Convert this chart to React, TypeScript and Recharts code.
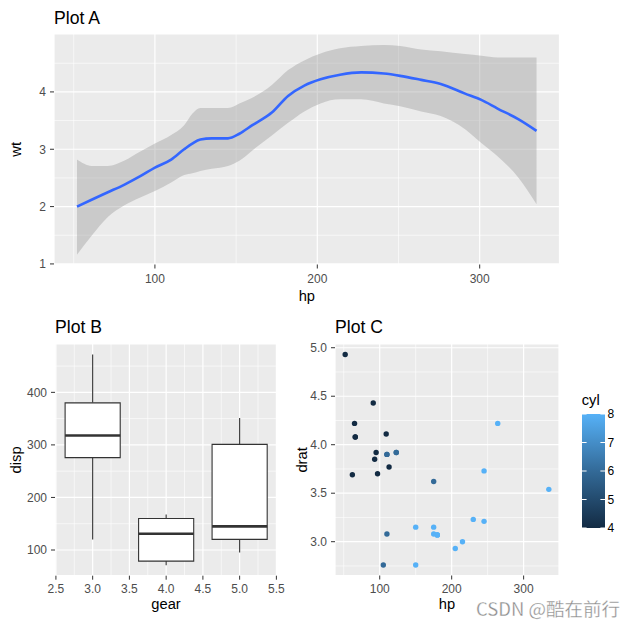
import React from "react";
import {
  ComposedChart,
  ScatterChart,
  Area,
  Line,
  Scatter,
  XAxis,
  YAxis,
  CartesianGrid,
  ReferenceLine,
  ReferenceArea,
} from "recharts";

const FONT = '"Liberation Sans", Arial, sans-serif';
const PANEL = "#EBEBEB";
const TICK = { fill: "#4D4D4D", fontSize: 12, fontFamily: FONT };
const TICK_LINE = { stroke: "#333333" };

// Plot A: smoothed wt ~ hp with its confidence band
const hpA = [52, 61, 71, 81, 91, 100, 110, 118, 123, 128, 135, 145, 152, 160, 172, 182, 192, 202, 214, 227, 241, 251, 264, 276, 291, 301, 311, 324, 335];
const wtFit = [2.0, 2.12, 2.25, 2.38, 2.53, 2.68, 2.82, 3.0, 3.1, 3.17, 3.19, 3.19, 3.27, 3.42, 3.64, 3.93, 4.11, 4.22, 4.3, 4.34, 4.32, 4.28, 4.21, 4.14, 3.97, 3.86, 3.71, 3.52, 3.32];
const wtLow = [1.16, 1.49, 1.82, 2.02, 2.16, 2.27, 2.42, 2.55, 2.58, 2.62, 2.66, 2.71, 2.8, 2.98, 3.24, 3.46, 3.66, 3.8, 3.87, 3.87, 3.8, 3.75, 3.66, 3.58, 3.35, 3.11, 2.88, 2.5, 2.04];
const wtHigh = [2.82, 2.71, 2.71, 2.8, 2.96, 3.1, 3.25, 3.42, 3.62, 3.72, 3.72, 3.72, 3.8, 3.9, 4.12, 4.38, 4.55, 4.67, 4.76, 4.8, 4.82, 4.8, 4.74, 4.71, 4.66, 4.63, 4.6, 4.6, 4.6];
const hpTicks = [100, 200, 300];
const hpMinor = [50, 150, 250];
const wtTicks = [1, 2, 3, 4];
const wtMinor = [1.5, 2.5, 3.5, 4.5];

// Plot B: disp by gear
const gears = [3, 4, 5];
const dispMin = [120.1, 71.1, 95.1];
const dispQ1 = [275.8, 78.85, 120.3];
const dispMed = [318, 130.9, 145];
const dispQ3 = [380, 160, 301];
const dispMax = [472, 167.6, 351];
const gearTicks = [2.5, 3, 3.5, 4, 4.5, 5, 5.5];
const gearMinor = [2.75, 3.25, 3.75, 4.25, 4.75, 5.25];
const dispTicks = [100, 200, 300, 400];
const dispMinor = [150, 250, 350, 450];

// Plot C: drat vs hp, coloured by cyl
const hpC = [110, 110, 93, 110, 175, 105, 245, 62, 95, 123, 123, 180, 180, 180, 205, 215, 230, 66, 52, 65, 97, 150, 150, 245, 175, 66, 91, 113, 264, 175, 335, 109];
const dratC = [3.9, 3.9, 3.85, 3.08, 3.15, 2.76, 3.21, 3.69, 3.92, 3.92, 3.92, 3.07, 3.07, 3.07, 2.93, 3.0, 3.23, 4.08, 4.93, 4.22, 3.7, 2.76, 3.15, 3.73, 3.08, 4.08, 4.43, 3.77, 4.22, 3.62, 3.54, 4.11];
const cylC = [6, 6, 4, 6, 8, 6, 8, 4, 4, 6, 6, 8, 8, 8, 8, 8, 8, 4, 4, 4, 4, 8, 8, 8, 8, 4, 4, 4, 8, 6, 8, 4];
const dratTicks = [3, 3.5, 4, 4.5, 5];
const dratMinor = [2.75, 3.25, 3.75, 4.25, 4.75];
const cylLegend = [4, 5, 6, 7, 8];
const CYL_COLORS: Record<number, string> = { 4: "#132B43", 6: "#336A98", 8: "#56B1F7" };

const smoothRows = hpA.map((hp, i) => ({ hp, fit: wtFit[i], band: [wtLow[i], wtHigh[i]] }));
const boxRows = gears.map((gear, i) => ({
  gear,
  min: dispMin[i],
  q1: dispQ1[i],
  med: dispMed[i],
  q3: dispQ3[i],
  max: dispMax[i],
}));
const pointRows = hpC.map((hp, i) => ({ hp, drat: dratC[i], cyl: cylC[i] }));

const minorX = (vals: number[]) =>
  vals.map((v) => (
    <ReferenceLine key={"mx" + v} x={v} stroke="#FFFFFF" strokeWidth={0.6} zIndex={-50} />
  ));
const minorY = (vals: number[]) =>
  vals.map((v) => (
    <ReferenceLine key={"my" + v} y={v} stroke="#FFFFFF" strokeWidth={0.6} zIndex={-50} />
  ));

function PlotA() {
  return (
    <ComposedChart
      width={628}
      height={310}
      data={smoothRows}
      margin={{ top: 34, right: 68.5, bottom: 0, left: 0 }}
    >
      <CartesianGrid fill={PANEL} stroke="#FFFFFF" strokeWidth={1.2} />
      {minorX(hpMinor)}
      {minorY(wtMinor)}
      <XAxis
        type="number"
        dataKey="hp"
        domain={[37.85, 349.15]}
        ticks={hpTicks}
        interval={0}
        height={45.5}
        axisLine={false}
        tickLine={TICK_LINE}
        tickSize={4}
        tickMargin={6}
        tick={TICK}
      />
      <YAxis
        type="number"
        domain={[0.99, 5.01]}
        ticks={wtTicks}
        interval={0}
        width={54}
        axisLine={false}
        tickLine={TICK_LINE}
        tickSize={4}
        tickMargin={4}
        tick={TICK}
      />
      <Area
        type="monotone"
        dataKey="band"
        fill="#999999"
        fillOpacity={0.4}
        stroke="none"
        isAnimationActive={false}
      />
      <Line
        type="monotone"
        dataKey="fit"
        stroke="#3366FF"
        strokeWidth={2.6}
        dot={false}
        isAnimationActive={false}
      />
    </ComposedChart>
  );
}

function PlotB() {
  const half = 0.375;
  return (
    <ComposedChart
      width={300}
      height={318}
      data={boxRows}
      margin={{ top: 34, right: 22.7, bottom: 0, left: 0 }}
    >
      <CartesianGrid fill={PANEL} stroke="#FFFFFF" strokeWidth={1.2} />
      {minorX(gearMinor)}
      {minorY(dispMinor)}
      <XAxis
        type="number"
        dataKey="gear"
        domain={[2.4875, 5.5125]}
        ticks={gearTicks}
        interval={0}
        height={52.3}
        axisLine={false}
        tickLine={TICK_LINE}
        tickSize={4}
        tickMargin={5}
        tick={TICK}
        tickFormatter={(v: number) => v.toFixed(1)}
      />
      <YAxis
        type="number"
        domain={[51.1, 492]}
        ticks={dispTicks}
        interval={0}
        width={55}
        axisLine={false}
        tickLine={TICK_LINE}
        tickSize={4}
        tickMargin={4}
        tick={TICK}
      />
      <Scatter dataKey="med" shape={() => <g />} isAnimationActive={false} />
      {boxRows.map((b) => (
        <ReferenceLine
          key={"wl" + b.gear}
          segment={[
            { x: b.gear, y: b.min },
            { x: b.gear, y: b.q1 },
          ]}
          stroke="#333333"
          strokeWidth={1.1}
          zIndex={300}
        />
      ))}
      {boxRows.map((b) => (
        <ReferenceLine
          key={"wh" + b.gear}
          segment={[
            { x: b.gear, y: b.q3 },
            { x: b.gear, y: b.max },
          ]}
          stroke="#333333"
          strokeWidth={1.1}
          zIndex={300}
        />
      ))}
      {boxRows.map((b) => (
        <ReferenceArea
          key={"bx" + b.gear}
          x1={b.gear - half}
          x2={b.gear + half}
          y1={b.q1}
          y2={b.q3}
          fill="#FFFFFF"
          fillOpacity={1}
          stroke="#333333"
          strokeWidth={1.1}
          zIndex={350}
        />
      ))}
      {boxRows.map((b) => (
        <ReferenceLine
          key={"md" + b.gear}
          segment={[
            { x: b.gear - half, y: b.med },
            { x: b.gear + half, y: b.med },
          ]}
          stroke="#333333"
          strokeWidth={2.6}
          zIndex={400}
        />
      ))}
    </ComposedChart>
  );
}

function PlotC() {
  return (
    <ScatterChart
      width={328}
      height={318}
      margin={{ top: 34, right: 69, bottom: 0, left: 0 }}
    >
      <CartesianGrid fill={PANEL} stroke="#FFFFFF" strokeWidth={1.2} />
      {minorX(hpMinor)}
      {minorY(dratMinor)}
      <XAxis
        type="number"
        dataKey="hp"
        domain={[37.85, 349.15]}
        ticks={hpTicks}
        interval={0}
        height={52.5}
        axisLine={false}
        tickLine={TICK_LINE}
        tickSize={4}
        tickMargin={5}
        tick={TICK}
      />
      <YAxis
        type="number"
        dataKey="drat"
        domain={[2.6515, 5.0385]}
        ticks={dratTicks}
        interval={0}
        width={35}
        axisLine={false}
        tickLine={TICK_LINE}
        tickSize={4}
        tickMargin={4}
        tick={TICK}
        tickFormatter={(v: number) => v.toFixed(1)}
      />
      <Scatter
        data={pointRows}
        isAnimationActive={false}
        shape={(p: any) => (
          <circle cx={p.cx} cy={p.cy} r={2.7} fill={CYL_COLORS[p.payload.cyl]} />
        )}
      />
    </ScatterChart>
  );
}

function Overlay() {
  const barTop = 414;
  const barH = 114;
  const barX = 582;
  const barW = 23;
  const yOf = (v: number) => barTop + barH - ((v - 4) / 4) * barH;
  const title = { fontFamily: FONT, fontSize: 17.6, fill: "#000" };
  const axisTitle = { fontFamily: FONT, fontSize: 14.7, fill: "#000" };
  return (
    <svg
      width={628}
      height={628}
      style={{ position: "absolute", left: 0, top: 0, pointerEvents: "none" }}
    >
      <defs>
        <linearGradient id="cylGrad" x1="0" y1="1" x2="0" y2="0">
          <stop offset="0%" stopColor={CYL_COLORS[4]} />
          <stop offset="50%" stopColor={CYL_COLORS[6]} />
          <stop offset="100%" stopColor={CYL_COLORS[8]} />
        </linearGradient>
      </defs>
      <text x={54} y={24.3} {...title}>Plot A</text>
      <text x={55} y={332.6} {...title}>Plot B</text>
      <text x={335} y={332.6} {...title}>Plot C</text>

      <text x={306.8} y={301} textAnchor="middle" {...axisTitle}>hp</text>
      <text x={21.5} y={149.3} textAnchor="middle" transform="rotate(-90 21.5 149.3)" {...axisTitle}>wt</text>

      <text x={166} y={609} textAnchor="middle" {...axisTitle}>gear</text>
      <text x={21.5} y={459.9} textAnchor="middle" transform="rotate(-90 21.5 459.9)" {...axisTitle}>disp</text>

      <text x={447} y={609} textAnchor="middle" {...axisTitle}>hp</text>
      <text x={307} y={459.9} textAnchor="middle" transform="rotate(-90 307 459.9)" {...axisTitle}>drat</text>

      <text x={581.7} y={404.7} {...axisTitle}>cyl</text>
      <rect x={barX} y={barTop} width={barW} height={barH} fill="url(#cylGrad)" />
      {cylLegend.map((v) => (
        <g key={v}>
          <line x1={barX} x2={barX + 4.6} y1={yOf(v)} y2={yOf(v)} stroke="#FFFFFF" strokeWidth={1} />
          <line x1={barX + barW - 4.6} x2={barX + barW} y1={yOf(v)} y2={yOf(v)} stroke="#FFFFFF" strokeWidth={1} />
          <text x={607.5} y={yOf(v) + 4.3} fontFamily={FONT} fontSize={12} fill="#000">
            {v}
          </text>
        </g>
      ))}

      <text
        x={476}
        y={616}
        fontFamily='"Noto Sans CJK SC", "Liberation Sans", sans-serif'
        fontSize={18.5}
        fill="#8C8C8C"
        stroke="#FFFFFF"
        strokeWidth={0.3}
      >
        CSDN @酷在前行
      </text>
    </svg>
  );
}

export default function App() {
  return (
    <div
      style={{
        position: "absolute",
        left: 0,
        top: 0,
        width: 628,
        height: 628,
        background: "#FFFFFF",
        overflow: "hidden",
      }}
    >
      <div style={{ position: "absolute", left: 0, top: 0 }}>
        <PlotA />
      </div>
      <div style={{ position: "absolute", left: 0, top: 310 }}>
        <PlotB />
      </div>
      <div style={{ position: "absolute", left: 300, top: 310 }}>
        <PlotC />
      </div>
      <Overlay />
    </div>
  );
}
